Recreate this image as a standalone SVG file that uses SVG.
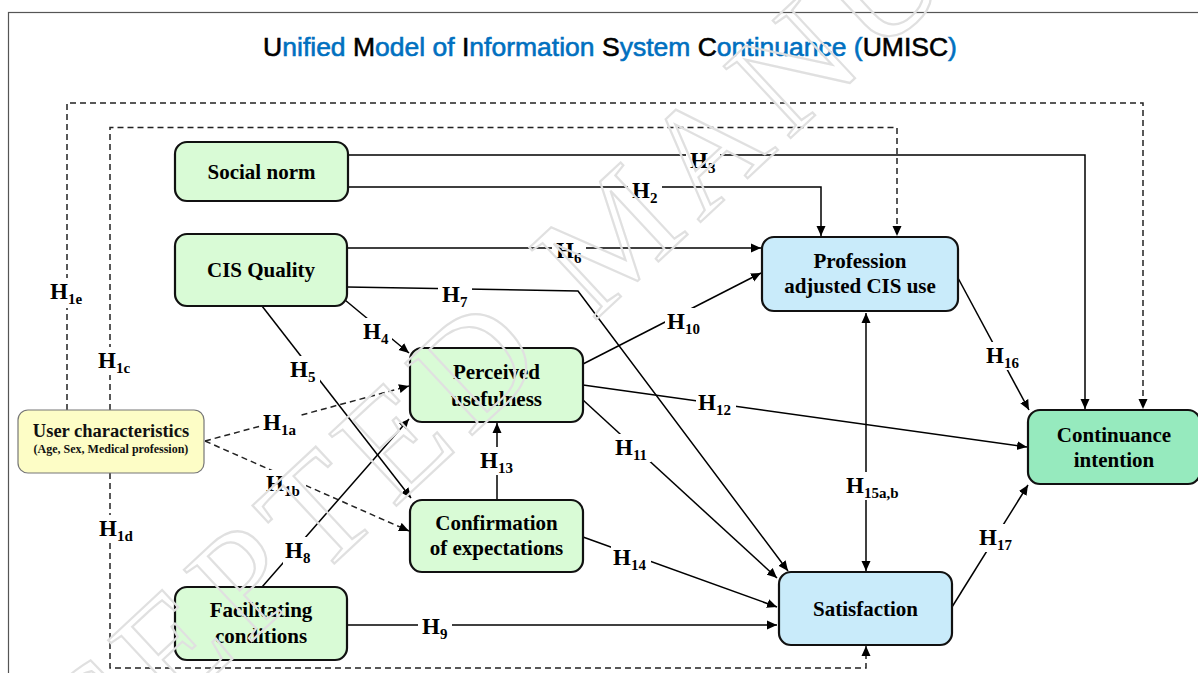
<svg xmlns="http://www.w3.org/2000/svg" width="1198" height="673" viewBox="0 0 1198 673">
  <defs>
    <marker id="arr" viewBox="0 0 10 10" refX="10" refY="5" markerWidth="10" markerHeight="10" markerUnits="userSpaceOnUse" orient="auto-start-reverse">
      <path d="M0,0.5 L10,5 L0,9.5 Z" fill="#000"/>
    </marker>
    <style>
      .frame { fill: none; stroke: #555; stroke-width: 1.2; }
      .title { font-family: "Liberation Sans", Arial, sans-serif; font-size: 26.5px; fill: #0070c0; stroke: #0070c0; stroke-width: 0.6px; }
      .k { fill: #000; stroke: #000; }
      .box { stroke: #111; stroke-width: 2.2px; }
      .green { fill: #d9fbd6; }
      .blue { fill: #c9ebfa; }
      .mint { fill: #96eabe; }
      .ubox { fill: #fdfdc6; stroke: #777; stroke-width: 1.2px; }
      .serif { font-family: "Liberation Serif", "Times New Roman", serif; font-weight: bold; }
      .nt { font-size: 21px; fill: #000; text-anchor: middle; }
      .ut { font-size: 18.5px; fill: #111; text-anchor: middle; }
      .us { font-size: 12px; }
      .c { fill: none; stroke: #000; stroke-width: 1.5px; marker-end: url(#arr); }
      .d { stroke-dasharray: 6 4; stroke: #222; }
      .both { marker-start: url(#arr); }
      .h { font-size: 23px; fill: #000; }
      .s { font-size: 15px; }
      .bg { fill: #fff; }
      .wm { font-family: "Liberation Serif", "Times New Roman", serif; font-size: 150px; fill: none; stroke: #e0e0e0; stroke-width: 2.2px; letter-spacing: 12px; }
    </style>
  </defs>

  <rect width="1198" height="673" fill="#fff"/>
  <rect class="frame" x="8.5" y="12.5" width="1200" height="700"/>

  <text class="title" x="610" y="56" text-anchor="middle"><tspan class="k">U</tspan>nified <tspan class="k">M</tspan>odel of <tspan class="k">I</tspan>nformation <tspan class="k">S</tspan>ystem <tspan class="k">C</tspan>ontinuance (<tspan class="k">UMISC</tspan>)</text>

  <g id="connectors">
    <!-- user characteristics moderating paths (dashed) -->
    <path class="c d" d="M67,410 V103 H1143 V409"/>
    <path class="c d" d="M110,410 V127.5 H897 V236"/>
    <path class="c d" d="M110,473 V668 H866 V646"/>
    <path class="c d" d="M205,441 L409,386"/>
    <path class="c d" d="M205,441 L409,531"/>
    <!-- structural paths -->
    <path class="c" d="M347,155 H1085 V409"/>
    <path class="c" d="M347,187 H821 V236"/>
    <path class="c" d="M347,248 H761"/>
    <path class="c" d="M347,287 L578,291 L788,571"/>
    <path class="c" d="M345,300 L409,353"/>
    <path class="c" d="M262,306 L411,498"/>
    <path class="c" d="M262,587 L409,419"/>
    <path class="c" d="M497,500 V423"/>
    <path class="c" d="M583,364 L761,273"/>
    <path class="c" d="M583,385 L1027,447"/>
    <path class="c" d="M583,400 L777,578"/>
    <path class="c" d="M583,537 L777,607"/>
    <path class="c" d="M347,625 H777"/>
    <path class="c both" d="M866,313 V571"/>
    <path class="c" d="M958,278 L1029,410"/>
    <path class="c" d="M952,607 L1028,485"/>

    <!-- hypothesis labels -->
    <g class="labels" font-family="'Liberation Serif', 'Times New Roman', serif" font-weight="bold">
      <rect class="bg" x="48" y="278" width="40" height="30"/>
      <text class="serif h" x="50" y="299">H<tspan class="s" dy="5">1e</tspan></text>
      <rect class="bg" x="96" y="347" width="40" height="28"/>
      <text class="serif h" x="98" y="368">H<tspan class="s" dy="5">1c</tspan></text>
      <rect class="bg" x="97" y="515" width="40" height="28"/>
      <text class="serif h" x="99" y="536">H<tspan class="s" dy="5">1d</tspan></text>
      <rect class="bg" x="261" y="409" width="40" height="28"/>
      <text class="serif h" x="263" y="430">H<tspan class="s" dy="5">1a</tspan></text>
      <rect class="bg" x="264" y="470" width="42" height="28"/>
      <text class="serif h" x="266" y="491">H<tspan class="s" dy="5">1b</tspan></text>
      <rect class="bg" x="361" y="318" width="31" height="28"/>
      <text class="serif h" x="363" y="339">H<tspan class="s" dy="5">4</tspan></text>
      <rect class="bg" x="288" y="356" width="32" height="28"/>
      <text class="serif h" x="290" y="377">H<tspan class="s" dy="5">5</tspan></text>
      <rect class="bg" x="283" y="537" width="32" height="28"/>
      <text class="serif h" x="285" y="558">H<tspan class="s" dy="5">8</tspan></text>
      <rect class="bg" x="478" y="447" width="40" height="28"/>
      <text class="serif h" x="480" y="468">H<tspan class="s" dy="5">13</tspan></text>
      <rect class="bg" x="613" y="434" width="38" height="28"/>
      <text class="serif h" x="615" y="455">H<tspan class="s" dy="5">11</tspan></text>
      <rect class="bg" x="696" y="389" width="40" height="28"/>
      <text class="serif h" x="698" y="410">H<tspan class="s" dy="5">12</tspan></text>
      <rect class="bg" x="611" y="544" width="40" height="28"/>
      <text class="serif h" x="613" y="565">H<tspan class="s" dy="5">14</tspan></text>
      <rect class="bg" x="665" y="308" width="40" height="28"/>
      <text class="serif h" x="667" y="329">H<tspan class="s" dy="5">10</tspan></text>
      <rect class="bg" x="844" y="472" width="62" height="28"/>
      <text class="serif h" x="846" y="493">H<tspan class="s" dy="5">15a,b</tspan></text>
      <rect class="bg" x="984" y="342" width="40" height="28"/>
      <text class="serif h" x="986" y="363">H<tspan class="s" dy="5">16</tspan></text>
      <rect class="bg" x="977" y="524" width="40" height="28"/>
      <text class="serif h" x="979" y="545">H<tspan class="s" dy="5">17</tspan></text>
      <rect class="bg" x="686" y="147" width="34" height="28"/>
      <text class="serif h" x="690" y="168">H<tspan class="s" dy="5">3</tspan></text>
      <rect class="bg" x="628" y="177" width="34" height="28"/>
      <text class="serif h" x="632" y="198">H<tspan class="s" dy="5">2</tspan></text>
      <rect class="bg" x="552" y="237" width="34" height="28"/>
      <text class="serif h" x="556" y="258">H<tspan class="s" dy="5">6</tspan></text>
      <rect class="bg" x="438" y="281" width="34" height="28"/>
      <text class="serif h" x="442" y="302">H<tspan class="s" dy="5">7</tspan></text>
      <rect class="bg" x="418" y="613" width="34" height="28"/>
      <text class="serif h" x="422" y="634">H<tspan class="s" dy="5">9</tspan></text>
    </g>
  </g>

  <g id="social-norm" font-family="'Liberation Serif', 'Times New Roman', serif" font-weight="bold">
    <rect class="box green" x="175" y="142" width="173" height="59" rx="12"/>
    <text class="serif nt" x="261.5" y="179">Social norm</text>
  </g>
  <g id="cis-quality" font-family="'Liberation Serif', 'Times New Roman', serif" font-weight="bold">
    <rect class="box green" x="175" y="234" width="172" height="72" rx="12"/>
    <text class="serif nt" x="261" y="277">CIS Quality</text>
  </g>
  <g id="user-characteristics" font-family="'Liberation Serif', 'Times New Roman', serif" font-weight="bold">
    <rect class="ubox" x="18" y="410" width="186" height="63" rx="10"/>
    <text class="serif ut" x="111" y="437">User characteristics</text>
    <text class="serif ut us" x="111" y="453">(Age, Sex, Medical profession)</text>
  </g>
  <g id="perceived-usefulness" font-family="'Liberation Serif', 'Times New Roman', serif" font-weight="bold">
    <rect class="box green" x="410" y="348" width="173" height="74" rx="12"/>
    <text class="serif nt" x="496.5" y="379">Perceived</text>
    <text class="serif nt" x="496.5" y="406">usefulness</text>
  </g>
  <g id="confirmation" font-family="'Liberation Serif', 'Times New Roman', serif" font-weight="bold">
    <rect class="box green" x="410" y="500" width="173" height="72" rx="12"/>
    <text class="serif nt" x="496.5" y="530">Confirmation</text>
    <text class="serif nt" x="496.5" y="555">of expectations</text>
  </g>
  <g id="facilitating-conditions" font-family="'Liberation Serif', 'Times New Roman', serif" font-weight="bold">
    <rect class="box green" x="175" y="587" width="172" height="73" rx="12"/>
    <text class="serif nt" x="261" y="617">Facilitating</text>
    <text class="serif nt" x="261" y="643">conditions</text>
  </g>
  <g id="profession-adjusted-use" font-family="'Liberation Serif', 'Times New Roman', serif" font-weight="bold">
    <rect class="box blue" x="762" y="237" width="196" height="74" rx="12"/>
    <text class="serif nt" x="860" y="268">Profession</text>
    <text class="serif nt" x="860" y="293">adjusted CIS use</text>
  </g>
  <g id="satisfaction" font-family="'Liberation Serif', 'Times New Roman', serif" font-weight="bold">
    <rect class="box blue" x="779" y="572" width="173" height="73" rx="12"/>
    <text class="serif nt" x="865.5" y="616">Satisfaction</text>
  </g>
  <g id="continuance-intention" font-family="'Liberation Serif', 'Times New Roman', serif" font-weight="bold">
    <rect class="box mint" x="1028" y="410" width="172" height="74" rx="12"/>
    <text class="serif nt" x="1114" y="442">Continuance</text>
    <text class="serif nt" x="1114" y="467">intention</text>
  </g>

  <!-- faint diagonal stamp across the sheet -->
  <text class="wm" transform="translate(-80,950) rotate(-43)">ACCEPTED MANUSCRIPT</text>
</svg>
